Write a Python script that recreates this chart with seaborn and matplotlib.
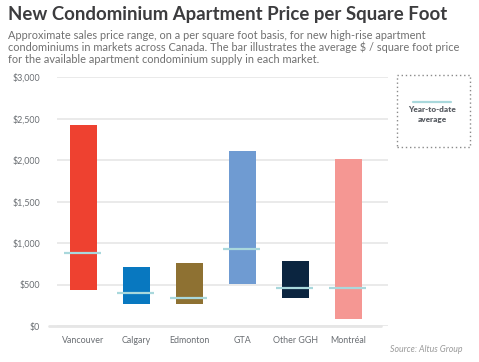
#!/usr/bin/env python3

import numpy as np
import seaborn as sns
import matplotlib.pyplot as plt
from matplotlib.patches import Rectangle
from matplotlib.lines import Line2D
from matplotlib.ticker import FuncFormatter

cities = ['Vancouver', 'Calgary', 'Edmonton', 'GTA', 'Other GGH', 'Montréal']
lows = [430, 270, 270, 510, 340, 80]
highs = [2425, 710, 760, 2110, 785, 2010]
averages = [880, 400, 340, 925, 460, 460]
colors = ['#ee4130', '#0878c0', '#8e7132', '#6f9bd2', '#0b2540', '#f59793']

sns.set_style('white')
plt.rcParams['font.family'] = ['Lato', 'DejaVu Sans']

spans = [h - l for h, l in zip(highs, lows)]

fig = plt.figure(figsize=(4.79, 3.62), dpi=100)
ax = fig.add_axes([0.119, 0.0994, 0.691, 0.6876])

sns.barplot(x=cities, y=spans, hue=cities, palette=colors, width=0.5,
            legend=False, ax=ax, saturation=1, zorder=3)
# float each bar up to its low end of the price range
for patch, low in zip(ax.patches, lows):
    patch.set_y(low)
    patch.set_edgecolor('none')

xs = np.arange(len(cities))
ax.hlines(averages, xs - 0.36, xs + 0.34, color='#a9d8dc', lw=1.6, zorder=4)

ax.set_ylim(0, 3000)
ax.set_xlim(-0.5, 5.75)
ax.set_yticks(range(0, 3001, 500))
ax.yaxis.set_major_formatter(FuncFormatter(lambda v, p: f'${v:,.0f}'))
ax.grid(axis='y', color='#e6e6e6', lw=1.2, zorder=0)
ax.set_axisbelow(True)
sns.despine(ax=ax, left=True, bottom=True)
ax.axhline(0, xmin=-0.025, xmax=0.98, color='#e6e6e6', lw=2, clip_on=False, zorder=1)
ax.tick_params(axis='both', length=0, labelsize=6.4, labelcolor='#6a6e73')
ax.tick_params(axis='y', pad=12)
ax.tick_params(axis='x', pad=7)
ax.set_xlabel('')
ax.set_ylabel('')

fig.text(0.017, 0.96, 'New Condominium Apartment Price per Square Foot',
         fontsize=13.4, fontweight='bold', color='#3c3c3e', va='center')
fig.text(0.017, 0.918,
         'Approximate sales price range, on a per square foot basis, for new high-rise apartment\n'
         'condominiums in markets across Canada. The bar illustrates the average $ / square foot price\n'
         'for the available apartment condominium supply in each market.',
         fontsize=7.9, color='#707070', va='top', linespacing=1.08)

# legend box
fig.patches.append(Rectangle((397 / 479, 1 - 147 / 362), 73 / 479, 72 / 362,
                             transform=fig.transFigure, fill=False,
                             edgecolor='#8a8a8a', linestyle=(0, (1, 2)), lw=1))
fig.lines.append(Line2D([413 / 479, 451 / 479], [1 - 101.5 / 362] * 2,
                        transform=fig.transFigure, color='#a9d8dc', lw=1.6))
for label, y in [('Year-to-date', 109), ('average', 119.5)]:
    fig.text(432 / 479, 1 - y / 362, label, fontsize=5.9, fontweight='heavy',
             color='#5c6066', ha='center', va='center')

fig.text(462 / 479, 1 - 349 / 362, 'Source: Altus Group', fontsize=6.3,
         style='italic', color='#9a9a9a', ha='right', va='center')

fig.savefig('out.png', dpi=100)
